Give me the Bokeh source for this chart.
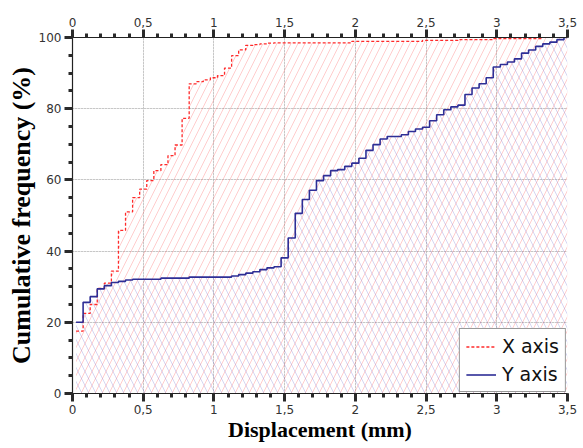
from bokeh.plotting import figure
from bokeh.models import (LinearAxis, SingleIntervalTicker, FixedTicker, CustomJSTickFormatter,
                          Range1d, Legend, LegendItem, Grid)
from bokeh.embed import file_html
from bokeh.resources import INLINE

# ---- data (step start positions, cumulative %) ----
x_red = [0.025, 0.075, 0.125, 0.175, 0.225, 0.275, 0.325, 0.375, 0.425, 0.475,
         0.525, 0.575, 0.625, 0.675, 0.725, 0.775, 0.825, 0.875, 0.925, 0.975,
         1.025, 1.075, 1.125, 1.175, 1.225, 1.275, 1.325, 1.375, 1.425, 1.975,
         2.475, 2.725, 2.975, 3.325]
y_red = [17.5, 22.5, 25.0, 29.5, 31.0, 34.4, 45.8, 51.0, 55.0, 57.4,
         59.8, 62.6, 64.3, 66.8, 69.8, 77.3, 87.0, 87.6, 88.1, 88.7,
         89.3, 91.4, 94.9, 96.5, 97.8, 98.0, 98.2, 98.4, 98.5, 98.9,
         99.2, 99.4, 99.7, 100.0]

x_blue = [0.025, 0.075, 0.125, 0.175, 0.225, 0.275, 0.325, 0.375, 0.425, 0.625,
          0.825, 1.125, 1.175, 1.225, 1.275, 1.325, 1.375, 1.425, 1.475, 1.525,
          1.575, 1.625, 1.675, 1.725, 1.775, 1.825, 1.875, 1.925, 1.975, 2.025,
          2.075, 2.125, 2.175, 2.225, 2.325, 2.375, 2.425, 2.475, 2.525, 2.575,
          2.625, 2.675, 2.725, 2.775, 2.825, 2.875, 2.925, 2.975, 3.025, 3.075,
          3.125, 3.175, 3.225, 3.275, 3.325, 3.375, 3.425, 3.475, 3.5]
y_blue = [20.0, 25.6, 27.2, 29.4, 30.3, 31.2, 31.5, 31.9, 32.1, 32.4,
          32.7, 33.0, 33.4, 33.8, 34.2, 34.8, 35.3, 35.6, 38.1, 43.7,
          50.6, 54.5, 57.1, 59.8, 61.2, 62.6, 62.9, 63.8, 64.7, 66.1,
          68.3, 69.9, 71.5, 72.2, 72.7, 73.6, 74.3, 74.8, 76.6, 78.3,
          79.7, 80.5, 81.0, 84.0, 85.8, 87.0, 88.7, 91.7, 92.4, 93.1,
          94.0, 95.6, 96.5, 97.5, 98.2, 98.7, 99.4, 100.0, 100.0]

x_min, x_max = 0.0, 3.5
y_min, y_max = 0.0, 100.0

series_labels = ["X axis", "Y axis"]
x_title = "Displacement (mm)"
y_title = "Cumulative frequency (%)"

p = figure(width=583, height=448, output_backend="svg", toolbar_location=None,
           x_range=Range1d(x_min, x_max), y_range=Range1d(y_min, y_max),
           min_border_left=72, min_border_right=16, min_border_top=37,
           min_border_bottom=55, x_axis_location=None, y_axis_location=None)
p.outline_line_color = None
p.background_fill_color = "white"

# hatched areas under each curve
red_fill_x = x_red + [x_max]
red_fill_y = y_red + [y_red[-1]]
p.varea_step(x=red_fill_x, y1=[0] * len(red_fill_x), y2=red_fill_y, step_mode="after",
             fill_alpha=0, hatch_pattern="right_diagonal_line", hatch_color="#ff4a4a",
             hatch_alpha=0.28, hatch_scale=14, hatch_weight=1)
p.varea_step(x=x_blue, y1=[0] * len(x_blue), y2=y_blue, step_mode="after",
             fill_alpha=0, hatch_pattern="left_diagonal_line", hatch_color="#6a6ad0",
             hatch_alpha=0.28, hatch_scale=14, hatch_weight=1)

r_red = p.step(x_red, y_red, mode="after", line_color="#ff2a2a", line_width=1.3,
               line_dash="3 2")
r_blue = p.step(x_blue, y_blue, mode="after", line_color="#2e2e96", line_width=1.6)

fmt = CustomJSTickFormatter(code="return tick.toString().replace('.', ',');")
tick_font = "DejaVu Sans"

def tick_axis(ticker):
    ax = LinearAxis(ticker=ticker, formatter=fmt)
    ax.axis_line_color = "#222222"
    ax.axis_line_width = 1.2
    ax.major_tick_line_color = "#2a2a2a"
    ax.minor_tick_line_color = "#2a2a2a"
    ax.major_tick_line_width = 3
    ax.minor_tick_line_width = 3
    ax.major_tick_out = 8
    ax.major_tick_in = 0
    ax.minor_tick_out = 4
    ax.minor_tick_in = 0
    ax.major_label_text_font = tick_font
    ax.major_label_text_font_size = "12px"
    ax.major_label_text_color = "#333333"
    ax.major_label_standoff = 3
    return ax

def title_axis(label, size):
    ax = LinearAxis(ticker=FixedTicker(ticks=[]), axis_label=label)
    ax.axis_line_color = None
    ax.major_tick_out = 0
    ax.major_tick_in = 0
    ax.minor_tick_out = 0
    ax.minor_tick_in = 0
    ax.axis_label_text_font = "Liberation Serif"
    ax.axis_label_text_font_style = "bold"
    ax.axis_label_text_font_size = size
    ax.axis_label_text_color = "black"
    ax.axis_label_standoff = 0
    return ax

xb = tick_axis(SingleIntervalTicker(interval=0.5, num_minor_ticks=5))
p.add_layout(xb, "below")
p.add_layout(title_axis(x_title, "22px"), "below")

xt = tick_axis(SingleIntervalTicker(interval=0.5, num_minor_ticks=5))
p.add_layout(xt, "above")

yl = tick_axis(SingleIntervalTicker(interval=20, num_minor_ticks=4))
p.add_layout(yl, "left")
p.add_layout(title_axis(y_title, "26px"), "left")

gx = Grid(dimension=0, ticker=xb.ticker, grid_line_color="#a8a8a8", grid_line_dash="1 2",
          grid_line_width=1)
gy = Grid(dimension=1, ticker=yl.ticker, grid_line_color="#a8a8a8", grid_line_dash="1 2",
          grid_line_width=1)
p.add_layout(gx)
p.add_layout(gy)

legend = Legend(items=[LegendItem(label=series_labels[0], renderers=[r_red]),
                       LegendItem(label=series_labels[1], renderers=[r_blue])],
                location="bottom_right", border_line_color="#333333", border_line_width=1.2,
                background_fill_color="white", background_fill_alpha=1.0,
                label_text_font="DejaVu Sans", label_text_font_size="19px",
                label_text_color="#111111", glyph_width=30, glyph_height=21,
                spacing=6, padding=6, margin=1, label_standoff=6)
p.add_layout(legend)

open("out.html", "w").write(file_html(p, INLINE))
